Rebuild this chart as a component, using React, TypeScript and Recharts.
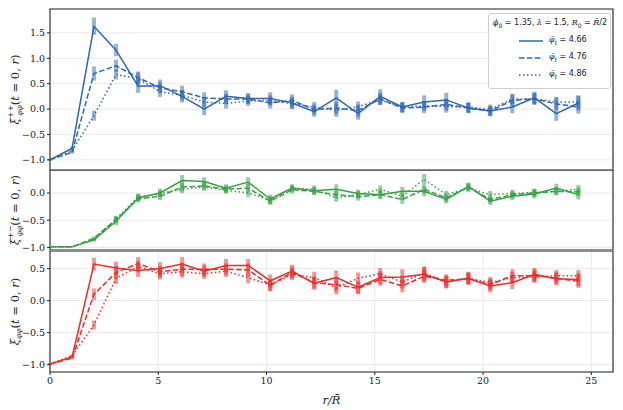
import React from 'react';
import {
    LineChart,
    Line,
    XAxis,
    YAxis,
    CartesianGrid,
    ErrorBar,
    ReferenceArea,
} from 'recharts';

// r / R-bar positions of the measured bins
const rValues = [0, 1.02, 2.03, 3.05, 4.07, 5.08, 6.1, 7.12, 8.13, 9.15, 10.17, 11.18, 12.2, 13.22, 14.23, 15.25, 16.27, 17.28, 18.3, 19.32, 20.33, 21.35, 22.37, 23.38, 24.4];

const seriesLabels = ['4.66', '4.76', '4.86'];

// xi_{phi phi}^{++}
const pp466 = [-1.0, -0.77, 1.63, 1.16, 0.45, 0.46, 0.25, 0.0, 0.25, 0.21, 0.21, 0.12, -0.05, 0.22, -0.09, 0.25, 0.04, 0.14, 0.18, 0.02, -0.04, 0.04, 0.22, -0.09, 0.12];
const pp476 = [-1.0, -0.85, 0.7, 0.85, 0.62, 0.42, 0.34, 0.22, 0.2, 0.2, 0.12, 0.17, -0.01, 0.02, -0.03, 0.2, 0.02, 0.04, 0.09, 0.02, -0.04, 0.17, 0.2, 0.1, 0.04];
const pp486 = [-1.0, -0.82, -0.13, 0.68, 0.6, 0.34, 0.27, 0.14, 0.11, 0.16, 0.17, 0.11, 0.04, -0.03, 0.05, 0.18, 0.04, 0.06, 0.05, 0.04, -0.01, 0.2, 0.2, 0.14, 0.14];
const ppErr466 = [0.01, 0.03, 0.17, 0.12, 0.13, 0.12, 0.12, 0.12, 0.12, 0.1, 0.12, 0.12, 0.1, 0.16, 0.12, 0.14, 0.1, 0.13, 0.14, 0.1, 0.1, 0.12, 0.12, 0.14, 0.15];
const ppErr476 = [0.01, 0.03, 0.14, 0.12, 0.12, 0.11, 0.12, 0.11, 0.1, 0.1, 0.11, 0.12, 0.1, 0.12, 0.12, 0.12, 0.1, 0.12, 0.12, 0.1, 0.1, 0.12, 0.12, 0.12, 0.13];
const ppErr486 = [0.01, 0.03, 0.1, 0.1, 0.12, 0.1, 0.1, 0.1, 0.1, 0.1, 0.1, 0.1, 0.1, 0.12, 0.1, 0.1, 0.1, 0.1, 0.12, 0.1, 0.1, 0.1, 0.1, 0.1, 0.12];

// xi_{phi phi}^{+-}
const pm466 = [-0.99, -0.99, -0.86, -0.52, -0.09, 0.0, 0.23, 0.21, 0.09, 0.2, -0.11, 0.09, 0.04, 0.07, -0.01, -0.03, 0.03, 0.03, -0.12, 0.12, -0.15, -0.06, -0.02, 0.09, -0.03];
const pm476 = [-0.99, -0.99, -0.83, -0.49, -0.11, -0.06, 0.11, 0.13, 0.07, 0.09, -0.15, 0.06, 0.03, -0.03, -0.07, -0.03, -0.12, 0.07, -0.09, 0.11, -0.12, -0.03, 0.0, 0.03, 0.02];
const pm486 = [-0.99, -0.99, -0.85, -0.48, -0.07, -0.01, 0.07, 0.11, 0.05, 0.0, -0.13, 0.09, 0.07, -0.09, -0.03, 0.07, -0.06, 0.25, -0.03, 0.09, -0.03, -0.01, 0.01, 0.03, 0.07];
const pmErr466 = [0.0, 0.0, 0.03, 0.07, 0.07, 0.08, 0.1, 0.08, 0.07, 0.09, 0.08, 0.07, 0.07, 0.09, 0.07, 0.08, 0.08, 0.09, 0.07, 0.07, 0.07, 0.07, 0.08, 0.08, 0.09];
const pmErr476 = [0.0, 0.0, 0.03, 0.06, 0.06, 0.07, 0.08, 0.07, 0.07, 0.08, 0.07, 0.07, 0.07, 0.07, 0.07, 0.07, 0.08, 0.08, 0.07, 0.07, 0.07, 0.07, 0.07, 0.07, 0.08];
const pmErr486 = [0.0, 0.0, 0.03, 0.06, 0.06, 0.06, 0.07, 0.07, 0.06, 0.07, 0.07, 0.06, 0.07, 0.07, 0.07, 0.07, 0.07, 0.1, 0.07, 0.07, 0.07, 0.07, 0.07, 0.07, 0.08];

// xi_{phi phi}
const d466 = [-0.99, -0.88, 0.57, 0.51, 0.47, 0.5, 0.57, 0.46, 0.55, 0.55, 0.31, 0.46, 0.27, 0.36, 0.21, 0.36, 0.37, 0.41, 0.29, 0.35, 0.23, 0.28, 0.41, 0.34, 0.33];
const d476 = [-0.99, -0.9, 0.1, 0.44, 0.58, 0.45, 0.49, 0.49, 0.49, 0.48, 0.24, 0.44, 0.28, 0.25, 0.19, 0.33, 0.23, 0.38, 0.32, 0.34, 0.25, 0.39, 0.39, 0.35, 0.3];
const d486 = [-0.99, -0.86, -0.38, 0.35, 0.53, 0.42, 0.45, 0.42, 0.46, 0.36, 0.24, 0.41, 0.36, 0.2, 0.35, 0.42, 0.29, 0.43, 0.29, 0.35, 0.28, 0.36, 0.37, 0.39, 0.39];
const dErr466 = [0.01, 0.02, 0.1, 0.1, 0.1, 0.1, 0.11, 0.09, 0.1, 0.1, 0.1, 0.1, 0.1, 0.11, 0.1, 0.1, 0.12, 0.12, 0.1, 0.1, 0.1, 0.1, 0.1, 0.1, 0.1];
const dErr476 = [0.01, 0.02, 0.09, 0.1, 0.1, 0.09, 0.1, 0.09, 0.09, 0.1, 0.09, 0.09, 0.09, 0.1, 0.09, 0.1, 0.1, 0.1, 0.09, 0.09, 0.09, 0.1, 0.1, 0.09, 0.1];
const dErr486 = [0.01, 0.02, 0.07, 0.09, 0.09, 0.09, 0.09, 0.08, 0.09, 0.09, 0.09, 0.09, 0.09, 0.1, 0.09, 0.09, 0.1, 0.1, 0.09, 0.09, 0.09, 0.09, 0.09, 0.09, 0.09];

const xTicks = [0, 5, 10, 15, 20, 25];
const ppTicks = [-1, -0.5, 0, 0.5, 1, 1.5];
const pmTicks = [-1, -0.5, 0];
const dTicks = [-1, -0.5, 0, 0.5];

const BLUE = '#2f67b1';
const GREEN = '#37a048';
const RED = '#ee2b2b';

const SERIF = "'DejaVu Serif', serif";
const dashes = [undefined, '5.5 2.4', '1.5 2.5'];

const buildRows = (vals: number[][], errs: number[][]) =>
    rValues.map((r, i) => ({
        r,
        a: vals[0][i],
        b: vals[1][i],
        c: vals[2][i],
        ea: errs[0][i],
        eb: errs[1][i],
        ec: errs[2][i],
    }));

const ppRows = buildRows([pp466, pp476, pp486], [ppErr466, ppErr476, ppErr486]);
const pmRows = buildRows([pm466, pm476, pm486], [pmErr466, pmErr476, pmErr486]);
const dRows = buildRows([d466, d476, d486], [dErr466, dErr476, dErr486]);

const tickFont = { fontSize: 9.5, fill: '#222', style: { fontFamily: SERIF } };
const fmt = (v: number) => (v < 0 ? '\u2212' + Math.abs(v).toFixed(1) : v.toFixed(1));

const YLabel = ({ viewBox, sup }: any) => {
    const cy = viewBox.y + viewBox.height / 2;
    return (
        <text
            x={15}
            y={cy}
            transform={`rotate(-90, 15, ${cy})`}
            textAnchor="middle"
            dominantBaseline="central"
            style={{ fontFamily: SERIF }}
            fontSize={11.5}
            fill="#222"
        >
            <tspan fontStyle="italic">ξ</tspan>
            {sup ? (
                <>
                    <tspan fontSize={8} dy={-5}>{sup}</tspan>
                    <tspan fontSize={7.5} fontStyle="italic" dx={-11} dy={9}>φφ</tspan>
                    <tspan dy={-4}>(</tspan>
                </>
            ) : (
                <>
                    <tspan fontSize={7.5} fontStyle="italic" dy={3}>φφ</tspan>
                    <tspan dy={-3}>(</tspan>
                </>
            )}
            <tspan fontStyle="italic">t</tspan>
            <tspan> = 0, </tspan>
            <tspan fontStyle="italic">r</tspan>
            <tspan>)</tspan>
        </text>
    );
};

const LegendBox = () => (
    <div
        style={{
            position: 'absolute',
            left: 488,
            top: 13,
            width: 113,
            border: '1px solid #cfcfcf',
            borderRadius: 3,
            background: 'rgba(255,255,255,0.85)',
            padding: '2px 4px 4px 4px',
            fontFamily: "'DejaVu Sans', sans-serif",
            fontSize: 8,
            color: '#222',
            lineHeight: '14.5px',
        }}
    >
        <div style={{ whiteSpace: 'nowrap', lineHeight: '14px' }}>
            <i style={{ fontFamily: SERIF }}>ϕ</i>
            <sub style={{ fontSize: 6 }}>0</sub> = 1.35, <i style={{ fontFamily: SERIF }}>λ</i> = 1.5,{' '}
            <i style={{ fontFamily: SERIF }}>R</i>
            <sub style={{ fontSize: 6 }}>0</sub> = <i style={{ fontFamily: SERIF }}>R̄</i>/2
        </div>
        {seriesLabels.map((lab, i) => (
            <div key={lab} style={{ display: 'flex', alignItems: 'center', paddingLeft: 26 }}>
                <svg width={24} height={6} style={{ marginRight: 6 }}>
                    <line x1={0} y1={3} x2={24} y2={3} stroke={BLUE} strokeWidth={1.5} strokeDasharray={dashes[i]} />
                </svg>
                <span>
                    <i style={{ fontFamily: SERIF }}>φ̄</i>
                    <sub style={{ fontSize: 6, fontStyle: 'italic' }}>t</sub> = {lab}
                </span>
            </div>
        ))}
    </div>
);

const Panel = ({ rows, color, domain, ticks, height, top, marginTop, marginBottom, sup, showX }: any) => (
    <div style={{ position: 'absolute', left: 0, top, width: 623, height }}>
        <LineChart
            width={623}
            height={height}
            data={rows}
            margin={{ top: marginTop, right: 10, left: 0, bottom: marginBottom || 0 }}
        >
            <CartesianGrid stroke="#e4e4e4" strokeWidth={0.8} />
            <XAxis
                dataKey="r"
                type="number"
                domain={[0, 26]}
                ticks={xTicks}
                allowDataOverflow
                height={showX ? 38 : 0}
                tick={showX ? tickFont : false}
                tickSize={3}
                tickLine={showX ? { stroke: '#222' } : false}
                axisLine={false}
                tickMargin={2}
                label={
                    showX
                        ? {
                              value: 'r/R̄',
                              position: 'insideBottom',
                              offset: 6,
                              style: { fontFamily: SERIF, fontStyle: 'italic', fontSize: 11.5, fill: '#222' },
                          }
                        : undefined
                }
            />
            <YAxis
                type="number"
                domain={domain}
                ticks={ticks}
                allowDataOverflow
                width={50}
                tick={tickFont}
                tickFormatter={fmt}
                tickSize={3}
                tickLine={{ stroke: '#222' }}
                tickMargin={2}
                axisLine={false}
                interval={0}
                label={<YLabel sup={sup} />}
            />
            <ReferenceArea
                x1={0}
                x2={26}
                y1={domain[0]}
                y2={domain[1]}
                fill="none"
                stroke="#262626"
                strokeWidth={1.1}
                ifOverflow="visible"
            />
            {['a', 'b', 'c'].map((k, i) => (
                <Line
                    key={k}
                    dataKey={k}
                    type="linear"
                    stroke={color}
                    strokeWidth={1.5}
                    strokeDasharray={dashes[i]}
                    dot={false}
                    activeDot={false}
                    isAnimationActive={false}
                >
                    <ErrorBar
                        dataKey={'e' + k}
                        direction="y"
                        width={0}
                        stroke={color}
                        strokeWidth={4}
                        strokeOpacity={0.5}
                        isAnimationActive={false}
                    />
                </Line>
            ))}
        </LineChart>
    </div>
);

export default function App() {
    return (
        <div style={{ position: 'absolute', left: 0, top: 0, width: 623, height: 410, background: '#fff', fontFamily: SERIF }}>
            <Panel rows={ppRows} color={BLUE} domain={[-1.2, 1.97]} ticks={ppTicks} height={176} top={0} marginTop={9} marginBottom={6} sup="++" />
            <Panel rows={pmRows} color={GREEN} domain={[-1.048, 0.423]} ticks={pmTicks} height={86} top={170} marginTop={0} marginBottom={6} sup="+−" />
            <Panel rows={dRows} color={RED} domain={[-1.115, 0.775]} ticks={dTicks} height={159} top={251} marginTop={0} showX />
            <LegendBox />
        </div>
    );
}
